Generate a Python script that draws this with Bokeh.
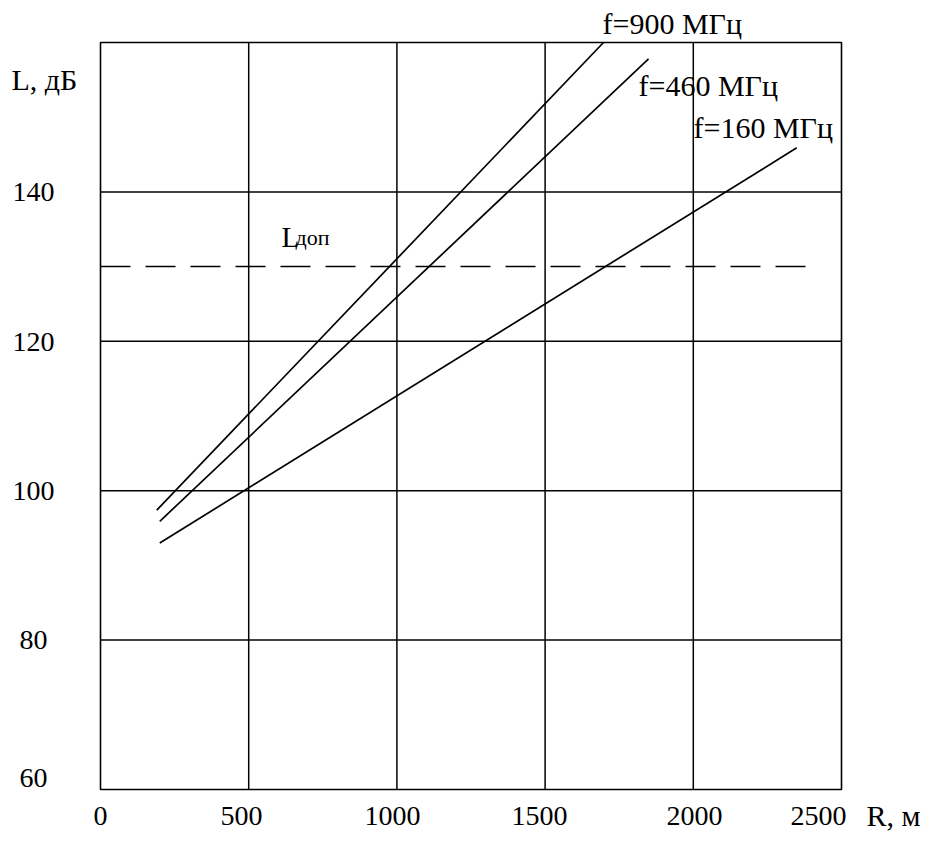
from bokeh.plotting import figure
from bokeh.models import Range1d, Label
from bokeh.embed import file_html
from bokeh.resources import INLINE

# ---- data ----
x_ticks = [0, 500, 1000, 1500, 2000, 2500]
y_ticks = [60, 80, 100, 120, 140]
grid_x = [500, 1000, 1500, 2000]
grid_y = [80, 100, 120, 140]

r_900 = [190, 1697]
L_900 = [97.4, 160.0]
r_460 = [200, 1849]
L_460 = [95.9, 157.8]
r_160 = [200, 2349]
L_160 = [93.0, 145.9]
r_dop = [0, 2380]
L_dop = [130, 130]

labels_series = ["f=900 МГц", "f=460 МГц", "f=160 МГц"]
x_title = "R, м"
y_title = "L, дБ"

# ---- layout (canvas pixels) ----
W, H = 922, 833
FL, FT, FW, FH = 100, 42, 741, 747          # chart box in pixels
X0, X1, Y0, Y1 = 0, 2500, 60, 160           # chart box in data units
sx = (X1 - X0) / FW
sy = (Y1 - Y0) / FH
BASE_FIX = 10   # svg text baseline correction (px)

def dx(px):
    return X0 + (px - FL) * sx

def dy(py):
    return Y0 + (FT + FH - py) * sy

p = figure(width=W, height=H, output_backend="svg", toolbar_location=None,
           x_range=Range1d(dx(0), dx(W)), y_range=Range1d(dy(H), dy(0)),
           x_axis_location=None, y_axis_location=None,
           min_border=0, min_border_left=0, min_border_right=0,
           min_border_top=0, min_border_bottom=0)
p.outline_line_color = None
p.background_fill_color = "white"
p.border_fill_color = "white"
p.xgrid.visible = False
p.ygrid.visible = False

# grid lines and box
p.segment(x0=grid_x, y0=[Y0] * len(grid_x), x1=grid_x, y1=[Y1] * len(grid_x),
          line_color="black", line_width=1.5)
p.segment(x0=[X0] * len(grid_y), y0=grid_y, x1=[X1] * len(grid_y), y1=grid_y,
          line_color="black", line_width=1.5)
p.quad(left=[X0], right=[X1], bottom=[Y0], top=[Y1], fill_color=None,
       line_color="black", line_width=1.6)

for xs, ys in [(r_900, L_900), (r_460, L_460), (r_160, L_160)]:
    p.line(xs, ys, line_color="black", line_width=1.7)
p.line(r_dop, L_dop, line_color="black", line_width=1.5, line_dash="30 15")

FONT = "Liberation Serif"

def lab(x, base_px, text, align="left", size="28px"):
    p.add_layout(Label(x=x, y=dy(base_px - BASE_FIX), text=text, text_font=FONT,
                       text_font_size=size, text_color="black",
                       text_align=align, text_baseline="alphabetic"))

# y tick labels (baseline pixel per tick)
y_label_base = {60: 787, 80: 649, 100: 500, 120: 351, 140: 201}
for v in y_ticks:
    lab(dx(33), y_label_base[v], str(v), align="center")
lab(dx(11), 89, y_title, size="30px")

# x tick labels
x_label_center = {0: 100, 500: 241, 1000: 392, 1500: 539, 2000: 694, 2500: 818}
for v in x_ticks:
    lab(dx(x_label_center[v]), 825, str(v), align="center")
lab(dx(920), 825, x_title, align="right", size="30px")

# series labels
lab(dx(602), 33, labels_series[0], size="30px")
lab(dx(638), 95, labels_series[1], size="30px")
lab(dx(693), 137, labels_series[2], size="30px")

# L_доп
lab(dx(281), 246, "L", size="29px")
lab(dx(295), 247, "доп", size="22px")

open("out.html", "w").write(file_html(p, INLINE))
